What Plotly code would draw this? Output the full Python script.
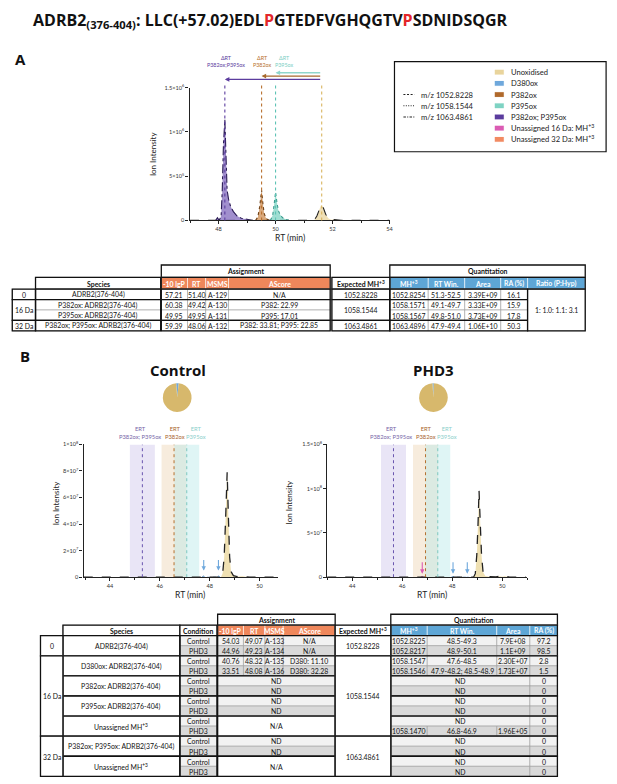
import plotly.graph_objects as go

W, H = 617, 784

# ===================== DATA =====================
title_prefix = "ADRB2"
title_range = "(376-404)"
title_seq = ["LLC(+57.02)EDL", "P", "GTEDFVGHQGTV", "P", "SDNIDSQGR"]
title_red = [False, True, False, True, False]

legend_species = ["Unoxidised", "D380ox", "P382ox", "P395ox", "P382ox; P395ox",
                  "Unassigned 16 Da: MH<sup>+3</sup>", "Unassigned 32 Da: MH<sup>+3</sup>"]
legend_mz = ["m/z 1052.8228", "m/z 1058.1544", "m/z 1063.4861"]

# Panel A chromatograms (RT in min, ion intensity)
A_unox_rt = [47.0, 51.35, 51.45, 51.52, 51.60, 51.68, 51.76, 51.85, 51.95, 52.05, 52.15, 52.30, 54.0]
A_unox_int = [0, 0, 0.05e6, 0.12e6, 0.175e6, 0.14e6, 0.07e6, 0.025e6, 0.008e6, 0.01e6, 0.004e6, 0, 0]
A_p382_rt = [49.30, 49.38, 49.44, 49.51, 49.56, 49.60, 49.66, 49.72, 49.80]
A_p382_int = [0, 0.04e6, 0.15e6, 0.34e6, 0.18e6, 0.08e6, 0.03e6, 0.01e6, 0]
A_p395_rt = [49.82, 49.90, 49.95, 50.00, 50.05, 50.10, 50.17, 50.25, 50.35, 50.50]
A_p395_int = [0, 0.06e6, 0.18e6, 0.32e6, 0.20e6, 0.11e6, 0.06e6, 0.03e6, 0.012e6, 0]
A_dbl_rt = [47.90, 47.96, 48.02, 48.09, 48.13, 48.17, 48.22, 48.26, 48.30, 48.35, 48.42, 48.52, 48.65, 48.80, 49.00, 49.20]
A_dbl_int = [0, 0.03e6, 0, 0.05e6, 0.35e6, 0.85e6, 1.14e6, 0.62e6, 0.34e6, 0.24e6, 0.16e6, 0.10e6, 0.05e6, 0.025e6, 0.01e6, 0]
A_apex = {"unox": 51.62, "p382": 49.51, "p395": 50.00, "dbl": 48.22}
A_yticks = [0, 5e5, 1e6, 1.5e6]
A_yticktext = ["0", "5×10<sup>5</sup>", "1×10<sup>6</sup>", "1.5×10<sup>6</sup>"]
A_xticks = [48, 50, 52, 54]

# Panel B chromatograms
B_ctrl_unox_rt = [42.95, 48.45, 48.52, 48.58, 48.64, 48.70, 48.75, 48.80, 48.86, 48.95, 49.10, 49.30, 49.45, 49.60, 50.70]
B_ctrl_unox_int = [0, 0, 3e6, 15e6, 45e6, 79e6, 45e6, 15e6, 4e6, 1.2e6, 0.5e6, 0.8e6, 0.3e6, 0, 0]
B_ctrl_d380_rt = [47.68, 47.76, 47.84, 48.28, 48.35, 48.42]
B_ctrl_d380_int = [0, 0.9e6, 0, 0, 1.1e6, 0]
B_phd_unox_rt = [43.0, 48.85, 48.92, 48.98, 49.03, 49.07, 49.12, 49.17, 49.23, 49.32, 49.50, 49.75, 49.90, 50.00, 50.10, 50.30, 50.95]
B_phd_unox_int = [0, 0, 4e6, 25e6, 60e6, 98e6, 60e6, 25e6, 6e6, 1.5e6, 0.5e6, 0.4e6, 1.2e6, 0.6e6, 1.0e6, 0, 0]
B_phd_d380_rt = [47.96, 48.03, 48.10, 48.53, 48.60, 48.67]
B_phd_d380_int = [0, 0.8e6, 0, 0, 0.9e6, 0]
B_phd_u16_rt = [46.74, 46.80, 46.86]
B_phd_u16_int = [0, 0.8e6, 0]
B_ctrl_arrows = [47.76, 48.35]
B_phd_arrows_d380 = [48.03, 48.60]
B_phd_arrows_u16 = [46.80]
ERT_ctrl = [45.30, 46.57, 47.08]      # P382ox;P395ox, P382ox, P395ox
ERT_phd = [45.65, 46.93, 47.42]
ERT_window = 0.5
ERT_names = ["P382ox; P395ox", "P382ox", "P395ox"]
B_ctrl_yticks = [0, 2e7, 4e7, 6e7, 8e7, 1e8]
B_ctrl_yticktext = ["0", "2×10<sup>7</sup>", "4×10<sup>7</sup>", "6×10<sup>7</sup>", "8×10<sup>7</sup>", "1×10<sup>8</sup>"]
B_phd_yticks = [0, 5e7, 1e8, 1.5e8]
B_phd_yticktext = ["0", "5×10<sup>7</sup>", "1×10<sup>8</sup>", "1.5×10<sup>8</sup>"]
B_xticks = [44, 46, 48, 50]

pie_labels = ["D380ox", "Unoxidised"]
pie_control = [2.8, 97.2]
pie_phd3 = [1.5, 98.5]

# Table A
TA_groups = ["0", "16 Da", "32 Da"]
TA_group_span = [1, 2, 1]
TA_expected = ["1052.8228", "1058.1544", "1063.4861"]
TA_species = ["ADRB2(376-404)", "P382ox: ADRB2(376-404)", "P395ox: ADRB2(376-404)", "P382ox; P395ox: ADRB2(376-404)"]
TA_lgP = ["57.21", "60.38", "49.95", "59.39"]
TA_RT = ["51.40", "49.42", "49.95", "48.06"]
TA_MSMS = ["A-129", "A-130", "A-131", "A-132"]
TA_AScore = ["N/A", "P382: 22.99", "P395: 17.01", "P382: 33.81; P395: 22.85"]
TA_MH = ["1052.8254", "1058.1571", "1058.1567", "1063.4896"]
TA_RTwin = ["51.3-52.5", "49.1-49.7", "49.8-51.0", "47.9-49.4"]
TA_Area = ["3.39E+09", "3.33E+09", "3.73E+09", "1.06E+10"]
TA_RA = ["16.1", "15.9", "17.8", "50.3"]
TA_ratio = "1: 1.0: 1.1: 3.1"
assign_hdr = ["-10 lgP", "RT", "MSMS", "AScore"]
quantA_hdr = ["MH<sup>+3</sup>", "RT Win.", "Area", "RA (%)", "Ratio (P:Hyp)"]
quantB_hdr = ["MH<sup>+3</sup>", "RT Win.", "Area", "RA (%)"]

# Table B
TB_groups = ["0", "16 Da", "32 Da"]
TB_group_species = [1, 4, 2]
TB_expected = ["1052.8228", "1058.1544", "1063.4861"]
TB_species = ["ADRB2(376-404)", "D380ox: ADRB2(376-404)", "P382ox: ADRB2(376-404)",
              "P395ox: ADRB2(376-404)", "Unassigned MH<sup>+3</sup>",
              "P382ox; P395ox: ADRB2(376-404)", "Unassigned MH<sup>+3</sup>"]
TB_conditions = ["Control", "PHD3"]
TB_assign = [["54.03", "49.07", "A-133", "N/A"], ["44.96", "49.23", "A-134", "N/A"],
             ["40.76", "48.32", "A-135", "D380: 11.10"], ["33.51", "48.08", "A-136", "D380: 32.28"],
             "ND", "ND", "ND", "ND", "N/A*", None, "ND", "ND", "N/A*", None]
TB_quant = [["1052.8225", "48.5-49.3", "7.9E+08"], ["1052.8217", "48.9-50.1", "1.1E+09"],
            ["1058.1547", "47.6-48.5", "2.30E+07"], ["1058.1546", "47.9-48.2; 48.5-48.9", "1.73E+07"],
            "ND", "ND", "ND", "ND", "ND", ["1058.1470", "46.8-46.9", "1.96E+05"],
            "ND", "ND", "ND", "ND"]
TB_RA = ["97.2", "98.5", "2.8", "1.5", "0", "0", "0", "0", "0", "0", "0", "0", "0", "0"]

# ===================== STYLE =====================
C_UNOX = "#E9D49C"
C_D380 = "#6FA8DC"
C_P382 = "#B0692B"
C_P395 = "#7ED3C3"
C_DBL = "#5B3C9E"
C_U16 = "#DB5CB4"
C_U32 = "#F28A62"
ORANGE = "#EF875B"
BLUE = "#5EA6D6"
TF = "Lato"
HF = "Open Sans"
TS = 6.9   # table font size
OFF = 8    # page body margin of the html page


def X(px):
    return (px - OFF) / W


def Y(py):
    return 1 - (py - OFF) / H


shapes, annots = [], []


def txt(t, px, py, size=TS, color="#111", bold=False, xanchor="center", family=TF, angle=0):
    if bold:
        t = "<b>" + t + "</b>"
    annots.append(dict(text=t, x=X(px), y=Y(py), xref="paper", yref="paper", showarrow=False,
                       xanchor=xanchor, yanchor="middle", textangle=angle, borderpad=0,
                       font=dict(size=size, color=color, family=family)))


def box(x0, x1, y0, y1, fill=None, lc="#9c9c9c", lw=0.6):
    shapes.append(dict(type="rect", xref="paper", yref="paper", x0=X(x0), x1=X(x1), y0=Y(y1), y1=Y(y0),
                       fillcolor=fill if fill else "rgba(0,0,0,0)",
                       line=dict(color=lc, width=lw), layer="above"))


def cell(x0, x1, y0, y1, t, fill="white", color="#111", bold=False, size=TS, lc="#9c9c9c", lw=0.6):
    box(x0, x1, y0, y1, fill, lc, lw)
    if t:
        txt(t, (x0 + x1) / 2, (y0 + y1) / 2 + 0.3, size, color, bold)


def thick(x0, x1, y0, y1):
    box(x0, x1, y0, y1, None, "#111", 1.3)


fig = go.Figure()

# ---------------- Title and panel letters ----------------
parts = [title_prefix, "<sub>" + title_range + "</sub>: "]
for s, red in zip(title_seq, title_red):
    parts.append("<span style='color:#E3262A'>%s</span>" % s if red else s)
txt("".join(parts), 32, 17, size=16, bold=True, xanchor="left", family=HF)
txt("A", 21, 55, size=15, bold=True, family=HF)
txt("B", 25, 355, size=15, bold=True, family=HF)
txt("Control", 179.3, 369.5, size=15, bold=True, family=HF)
txt("PHD3", 436.7, 369.5, size=15, bold=True, family=HF)

# ---------------- Panel A chromatogram ----------------
def peak(xs, ys, fill, lcolor, dash, xa, ya, lw=1.1):
    fig.add_trace(go.Scatter(x=xs, y=ys, mode="lines", fill="tozeroy", fillcolor=fill,
                             line=dict(color=lcolor, dash=dash, width=lw), xaxis=xa, yaxis=ya,
                             hoverinfo="skip", showlegend=False))


peak(A_unox_rt, A_unox_int, "rgba(233,212,156,0.75)", "#222", "dash", "x", "y")
peak(A_p382_rt, A_p382_int, "rgba(205,140,80,0.75)", "#6E3F14", "dot", "x", "y")
peak(A_p395_rt, A_p395_int, "rgba(126,211,195,0.75)", "#3C9C8F", "dot", "x", "y")
peak(A_dbl_rt, A_dbl_int, "rgba(130,105,190,0.75)", "#2A1B55", "dashdot", "x", "y")

vcol = {"unox": "#D9B45E", "p382": "#B8702E", "p395": "#5EC3B5", "dbl": "#5B3C9E"}
for k, rt in A_apex.items():
    shapes.append(dict(type="line", xref="x", yref="paper", x0=rt, x1=rt, y0=Y(218.3), y1=Y(80.7),
                       line=dict(color=vcol[k], width=1.1, dash="dot"), layer="above"))

# Delta RT arrows
for k, py, col in [("p395", 69.3, "#8FD6CC"), ("p382", 72.7, "#A86A2E"), ("dbl", 76.0, "#5B3C9E")]:
    annots.append(dict(x=A_apex[k], y=Y(py), xref="x", yref="paper", ax=A_apex["unox"], ay=0,
                       axref="x", ayref="pixel", showarrow=True, text="", arrowhead=2,
                       arrowsize=0.7, arrowwidth=1.3, arrowcolor=col, standoff=0))
# Delta RT labels
for lx, name, col in [(48.26, "P382ox;P395ox", "#5B3C9E"), (49.53, "P382ox", "#B8702E"), (50.30, "P395ox", "#7CCFC4")]:
    annots.append(dict(x=lx, y=Y(58.3), xref="x", yref="paper", showarrow=False,
                       text="ΔRT<br>" + name, xanchor="center", yanchor="middle",
                       font=dict(size=5.4, color=col, family=TF)))

axis_common = dict(showline=True, linecolor="#222", linewidth=1.1, ticks="outside", ticklen=3,
                   tickwidth=0.8, tickcolor="#222", showgrid=False, zeroline=False,
                   tickfont=dict(size=5.6, color="#333", family=TF))

# ---------------- Panel B chromatograms ----------------
ERT_label_shift = [-0.08, 0.02, 0.38]


def bpanel(xa, ya, erts, top):
    bcols = ["rgba(200,190,232,0.40)", "rgba(238,212,180,0.45)", "rgba(185,232,232,0.45)"]
    lcols = ["#6A55B0", "#B5702E", "#7CC7C0"]
    for e, bc in zip(erts, bcols):
        shapes.append(dict(type="rect", xref=xa, yref=ya, x0=e - ERT_window, x1=e + ERT_window,
                           y0=0, y1=top, fillcolor=bc, line=dict(width=0), layer="below"))
    for e, lc in zip(erts, lcols):
        shapes.append(dict(type="line", xref=xa, yref=ya, x0=e, x1=e, y0=0, y1=top,
                           line=dict(color=lc, width=1.0, dash="dot"), layer="above"))
    for e, sh, name, lc in zip(erts, ERT_label_shift, ERT_names, ["#7767A8", "#A8652E", "#8CCFCB"]):
        annots.append(dict(x=e + sh, y=Y(432.3), xref=xa, yref="paper", showarrow=False,
                           text="ERT<br>" + name, xanchor="center", yanchor="middle",
                           font=dict(size=5.8, color=lc, family=TF)))


bpanel("x2", "y2", ERT_ctrl, 1e8)
bpanel("x3", "y3", ERT_phd, 1.5e8)

peak(B_ctrl_d380_rt, B_ctrl_d380_int, "rgba(111,168,220,0.7)", "#4A7FB0", "dot", "x2", "y2", 0.8)
peak(B_ctrl_unox_rt, B_ctrl_unox_int, "rgba(236,218,165,0.85)", "#222", "dash", "x2", "y2", 1.3)
peak(B_phd_u16_rt, B_phd_u16_int, "rgba(219,92,180,0.7)", "#B04090", "dot", "x3", "y3", 0.8)
peak(B_phd_d380_rt, B_phd_d380_int, "rgba(111,168,220,0.7)", "#4A7FB0", "dot", "x3", "y3", 0.8)
peak(B_phd_unox_rt, B_phd_unox_int, "rgba(236,218,165,0.85)", "#222", "dash", "x3", "y3", 1.3)

for xv in B_ctrl_arrows:
    annots.append(dict(x=xv, y=5e6, xref="x2", yref="y2", ax=0, ay=-12, showarrow=True, text="",
                       arrowhead=2, arrowsize=0.8, arrowwidth=1.1, arrowcolor=C_D380, standoff=0))
for xv in B_phd_arrows_d380:
    annots.append(dict(x=xv, y=4e6, xref="x3", yref="y3", ax=0, ay=-13, showarrow=True, text="",
                       arrowhead=2, arrowsize=0.8, arrowwidth=1.1, arrowcolor=C_D380, standoff=0))
for xv in B_phd_arrows_u16:
    annots.append(dict(x=xv, y=4e6, xref="x3", yref="y3", ax=0, ay=-13, showarrow=True, text="",
                       arrowhead=2, arrowsize=0.8, arrowwidth=1.1, arrowcolor=C_U16, standoff=0))

# Pies
PR = 14.5
for vals, cx in [(pie_control, 178.3), (pie_phd3, 436.2)]:
    fig.add_trace(go.Pie(values=vals, labels=pie_labels, sort=False, direction="clockwise",
                         rotation=-4, marker=dict(colors=[C_D380, "#D7B86C"], line=dict(width=0)),
                         textinfo="none", hoverinfo="skip", showlegend=False,
                         domain=dict(x=[X(cx - PR), X(cx + PR)], y=[Y(397 + PR), Y(397 - PR)])))

# Axis titles
txt("Ion Intensity", 153.3, 151, size=8, angle=-90, color="#222")
txt("RT (min)", 291.7, 236, size=8.5, color="#222")
txt("Ion Intensity", 56, 503, size=8, angle=-90, color="#222")
txt("RT (min)", 190.7, 596, size=8.5, color="#222")
txt("Ion Intensity", 290.7, 502, size=8, angle=-90, color="#222")
txt("RT (min)", 435, 596, size=8.5, color="#222")

# ---------------- Legend box ----------------
box(397, 610, 58, 149, None, "#111", 1.2)
leg_rows = [68.7, 80.0, 91.3, 102.6, 113.9, 125.2, 136.5]
for name, col, py in zip(legend_species, [C_UNOX, C_D380, C_P382, C_P395, C_DBL, C_U16, C_U32], leg_rows):
    box(498, 507, py - 2.4, py + 2.4, col, col, 0.1)
    txt(name, 513, py, size=7.6, xanchor="left", color="#222")
for name, dash, py in zip(legend_mz, ["2px,1.6px", "1px,1.4px", "2.5px,1.3px,1px,1.3px"], leg_rows[2:5]):
    shapes.append(dict(type="line", xref="paper", yref="paper", x0=X(406), x1=X(417), y0=Y(py), y1=Y(py),
                       line=dict(color="#222", width=1.1, dash=dash)))
    txt(name, 423, py, size=7.6, xanchor="left", color="#222")

# ---------------- Table A ----------------
cA = {"grp": (12.3, 35.7), "sp": (35.7, 161.7), "lgp": (162.3, 188.7), "rt": (188.7, 207),
      "ms": (207, 230), "as": (230, 332.3), "exp": (334, 392.3), "mh": (392.3, 431),
      "win": (431, 467.7), "area": (467.7, 504), "ra": (504, 531), "ratio": (531, 589)}
hA1, hA2, dA0, rhA = 263.3, 275.7, 287.7, 10.5
rowsA = [dA0 + i * rhA for i in range(5)]

box(cA["lgp"][0], cA["as"][1], hA1, hA2, "white", "#111", 1.3)
txt("Assignment", (cA["lgp"][0] + cA["as"][1]) / 2, (hA1 + hA2) / 2, bold=True)
for key, lab in zip(["lgp", "rt", "ms", "as"], assign_hdr):
    cell(cA[key][0], cA[key][1], hA2, dA0, lab, ORANGE, "white", True, lc="white", lw=0.6)
thick(cA["lgp"][0], cA["as"][1], hA2, dA0)
box(cA["mh"][0], cA["ratio"][1], hA1, hA2, "white", "#111", 1.3)
txt("Quantitation", (cA["mh"][0] + cA["ratio"][1]) / 2, (hA1 + hA2) / 2, bold=True)
for key, lab in zip(["mh", "win", "area", "ra", "ratio"], quantA_hdr):
    cell(cA[key][0], cA[key][1], hA2, dA0, lab, BLUE, "white", True, lc="white", lw=0.6)
thick(cA["mh"][0], cA["ratio"][1], hA2, dA0)
cell(cA["sp"][0], cA["sp"][1], hA2, dA0, "Species", bold=True)
thick(cA["sp"][0], cA["sp"][1], hA2, dA0)
cell(cA["exp"][0], cA["exp"][1], hA2, dA0, "Expected MH<sup>+3</sup>", bold=True)
thick(cA["exp"][0], cA["exp"][1], hA2, dA0)

r = 0
for g, span, ex in zip(TA_groups, TA_group_span, TA_expected):
    ya, yb = rowsA[r], rowsA[r + span]
    cell(cA["grp"][0], cA["grp"][1], ya, yb, g)
    cell(cA["exp"][0], cA["exp"][1], ya, yb, ex)
    for k in range(r, r + span):
        y0, y1 = rowsA[k], rowsA[k + 1]
        for key, vals in [("sp", TA_species), ("lgp", TA_lgP), ("rt", TA_RT), ("ms", TA_MSMS),
                          ("as", TA_AScore), ("mh", TA_MH), ("win", TA_RTwin), ("area", TA_Area), ("ra", TA_RA)]:
            cell(cA[key][0], cA[key][1], y0, y1, vals[k])
    for k0, k1 in [("grp", "grp"), ("sp", "sp"), ("lgp", "as"), ("exp", "exp"), ("mh", "ra")]:
        thick(cA[k0][0], cA[k1][1], ya, yb)
    r += span
cell(cA["ratio"][0], cA["ratio"][1], rowsA[0], rowsA[4], TA_ratio)
thick(cA["ratio"][0], cA["ratio"][1], rowsA[0], rowsA[4])

# ---------------- Table B ----------------
cB = {"grp": (40.7, 63.3), "sp": (63.3, 181), "cond": (181, 218.3), "lgp": (219, 245), "rt": (245, 266.7),
      "ms": (266.7, 285), "as": (285, 337.3), "exp": (337.3, 393.3), "mh": (393.3, 430),
      "win": (430, 500), "area": (500, 533.3), "ra": (533.3, 561)}
hB1, hB2, dB0, rhB = 615.7, 626.7, 637.3, 10.14
rowsB = [dB0 + i * rhB for i in range(15)]
shade = {"Control": "#F2F2F2", "PHD3": "#D9D9D9"}

box(cB["lgp"][0], cB["as"][1], hB1, hB2, "white", "#111", 1.3)
txt("Assignment", (cB["lgp"][0] + cB["as"][1]) / 2, (hB1 + hB2) / 2, bold=True)
for key, lab in zip(["lgp", "rt", "ms", "as"], assign_hdr):
    cell(cB[key][0], cB[key][1], hB2, dB0, lab, ORANGE, "white", True, lc="white", lw=0.6)
thick(cB["lgp"][0], cB["as"][1], hB2, dB0)
box(cB["mh"][0], cB["ra"][1], hB1, hB2, "white", "#111", 1.3)
txt("Quantitation", (cB["mh"][0] + cB["ra"][1]) / 2, (hB1 + hB2) / 2, bold=True)
for key, lab in zip(["mh", "win", "area", "ra"], quantB_hdr):
    cell(cB[key][0], cB[key][1], hB2, dB0, lab, BLUE, "white", True, lc="white", lw=0.6)
thick(cB["mh"][0], cB["ra"][1], hB2, dB0)
for key, lab in [("sp", "Species"), ("cond", "Condition"), ("exp", "Expected MH<sup>+3</sup>")]:
    cell(cB[key][0], cB[key][1], hB2, dB0, lab, bold=True)
    thick(cB[key][0], cB[key][1], hB2, dB0)

row = 0
sp_i = 0
for g, nsp, ex in zip(TB_groups, TB_group_species, TB_expected):
    g0 = row
    for s in range(nsp):
        ya, yb = rowsB[row], rowsB[row + 2]
        cell(cB["sp"][0], cB["sp"][1], ya, yb, TB_species[sp_i])
        for c in range(2):
            k = row + c
            y0, y1 = rowsB[k], rowsB[k + 1]
            cond = TB_conditions[c]
            fill = shade[cond]
            cell(cB["cond"][0], cB["cond"][1], y0, y1, cond, fill)
            a = TB_assign[k]
            if isinstance(a, list):
                for key, v in zip(["lgp", "rt", "ms", "as"], a):
                    cell(cB[key][0], cB[key][1], y0, y1, v, fill)
            elif a == "N/A*":
                cell(cB["lgp"][0], cB["as"][1], y0, rowsB[k + 2], "N/A", "white")
            elif a is not None:
                cell(cB["lgp"][0], cB["as"][1], y0, y1, a, fill)
            q = TB_quant[k]
            if isinstance(q, list):
                for key, v in zip(["mh", "win", "area"], q):
                    cell(cB[key][0], cB[key][1], y0, y1, v, fill)
            else:
                cell(cB["mh"][0], cB["area"][1], y0, y1, q, fill)
            cell(cB["ra"][0], cB["ra"][1], y0, y1, TB_RA[k], fill)
        for k0, k1 in [("sp", "sp"), ("cond", "cond"), ("lgp", "as"), ("mh", "ra")]:
            thick(cB[k0][0], cB[k1][1], ya, yb)
        row += 2
        sp_i += 1
    ya, yb = rowsB[g0], rowsB[row]
    cell(cB["grp"][0], cB["grp"][1], ya, yb, g)
    thick(cB["grp"][0], cB["grp"][1], ya, yb)
    cell(cB["exp"][0], cB["exp"][1], ya, yb, ex)
    thick(cB["exp"][0], cB["exp"][1], ya, yb)

# ---------------- Layout ----------------
fig.update_layout(
    width=W, height=784, autosize=False, margin=dict(l=0, r=0, t=0, b=0),
    paper_bgcolor="white", plot_bgcolor="white", showlegend=False,
    font=dict(family=TF, color="#111"),
    xaxis=dict(domain=[X(190.7), X(392)], range=[46.98, 54], anchor="y", tickvals=A_xticks,
               minor=dict(ticks="outside", ticklen=2, dtick=1, tickcolor="#222"), **axis_common),
    yaxis=dict(domain=[Y(218.3), Y(84.3)], range=[0, 1.5e6], anchor="x", tickvals=A_yticks,
               ticktext=A_yticktext, **axis_common),
    xaxis2=dict(domain=[X(84), X(279.3)], range=[42.94, 50.72], anchor="y2", tickvals=B_xticks,
                minor=dict(ticks="outside", ticklen=2, dtick=1, tickcolor="#222"), **axis_common),
    yaxis2=dict(domain=[Y(578.3), Y(444.3)], range=[0, 1e8], anchor="x2", tickvals=B_ctrl_yticks,
                ticktext=B_ctrl_yticktext, **axis_common),
    xaxis3=dict(domain=[X(329.3), X(530.7)], range=[43.0, 51.0], anchor="y3", tickvals=B_xticks,
                minor=dict(ticks="outside", ticklen=2, dtick=1, tickcolor="#222"), **axis_common),
    yaxis3=dict(domain=[Y(578.3), Y(444.3)], range=[0, 1.5e8], anchor="x3", tickvals=B_phd_yticks,
                ticktext=B_phd_yticktext, **axis_common),
    shapes=shapes, annotations=annots,
)

fig.write_html("out.html")
